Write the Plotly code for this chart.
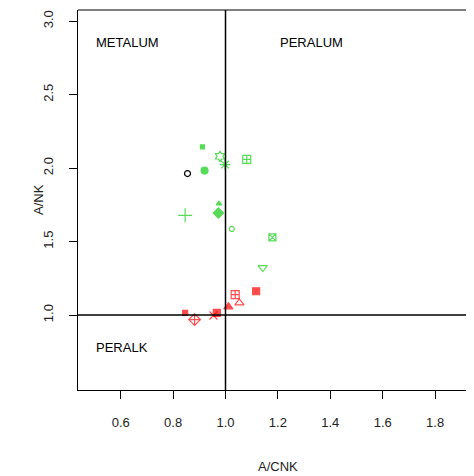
import plotly.graph_objects as go

# Green samples
green_x = [0.912, 0.979, 0.998, 1.081, 0.920, 0.846, 0.973, 0.975, 1.024, 1.179, 1.142]
green_y = [2.144, 2.080, 2.024, 2.060, 1.983, 1.679, 1.695, 1.758, 1.586, 1.529, 1.323]
green_sym = ["square", "hexagram-open", "asterisk-open", "square-cross-open", "circle",
             "cross-thin-open", "diamond", "triangle-up", "circle-open", "square-x-open",
             "triangle-down-open"]
green_size = [4, 8, 9, 8, 7, 10, 8, 5, 5, 7, 8]

# Black sample
black_x = [0.855]
black_y = [1.963]

# Red samples
red_x = [1.037, 1.117, 1.053, 1.011, 0.846, 0.882, 0.967, 0.954]
red_y = [1.139, 1.162, 1.083, 1.056, 1.015, 0.969, 1.015, 0.997]
red_sym = ["square-cross-open", "square", "triangle-up-open", "triangle-up", "square",
           "diamond-cross-open", "square-x", "x-thin-open"]
red_size = [8, 7, 8, 8, 5, 9, 7, 8]

region_labels = ["METALUM", "PERALUM", "PERALK"]
region_x = [0.498, 1.199, 0.498]
region_y = [2.855, 2.855, 0.779]

x_ticks = [0.6, 0.8, 1.0, 1.2, 1.4, 1.6, 1.8]
y_ticks = [1.0, 1.5, 2.0, 2.5, 3.0]

GREEN = "#11cc11"
RED = "#ff0000"
FONT = "Liberation Sans, Arial"

fig = go.Figure()
fig.add_shape(type="line", x0=1, x1=1, y0=0, y1=1, xref="x", yref="paper",
              line=dict(color="black", width=1.5))
fig.add_shape(type="line", x0=0, x1=1, y0=1, y1=1, xref="paper", yref="y",
              line=dict(color="black", width=1.5))
# top frame line
fig.add_shape(type="line", x0=0, x1=1, y0=1, y1=1, xref="paper", yref="paper",
              line=dict(color="black", width=1))

fig.add_trace(go.Scatter(x=green_x, y=green_y, mode="markers",
                         marker=dict(color=GREEN, symbol=green_sym, size=green_size,
                                     line=dict(color=GREEN, width=1.2))))
fig.add_trace(go.Scatter(x=black_x, y=black_y, mode="markers",
                         marker=dict(color="black", symbol="circle-open", size=6,
                                     line=dict(color="black", width=1.2))))
fig.add_trace(go.Scatter(x=red_x, y=red_y, mode="markers",
                         marker=dict(color=RED, symbol=red_sym, size=red_size,
                                     line=dict(color=RED, width=1.2))))

for t, x, y in zip(region_labels, region_x, region_y):
    fig.add_annotation(x=x, y=y, text=t, showarrow=False, xanchor="left", yanchor="middle",
                       font=dict(size=13, color="black", family=FONT))

# Axis titles
fig.add_annotation(xref="paper", yref="paper", x=0.515, y=-0.2026, text="A/CNK",
                   showarrow=False, xanchor="center", yanchor="middle",
                   font=dict(size=13, color="#222", family=FONT))
fig.add_annotation(xref="paper", yref="paper", x=-0.103, y=0.5, text="A/NK",
                   showarrow=False, xanchor="center", yanchor="middle", textangle=-90,
                   font=dict(size=13, color="#222", family=FONT))

fig.update_layout(
    width=458, height=468,
    margin=dict(l=70, r=0, t=2, b=86, autoexpand=False),
    plot_bgcolor="white", paper_bgcolor="white",
    showlegend=False,
    font=dict(family=FONT, size=13, color="#222"),
    xaxis=dict(range=[0.437, 1.918], tickvals=x_ticks, ticktext=[f"{v:.1f}" for v in x_ticks],
               showgrid=False, zeroline=False, showline=True, linecolor="black", linewidth=1,
               ticks="outside", ticklen=8, tickcolor="black",
               ticklabelstandoff=12, automargin=False),
    yaxis=dict(range=[0.49, 3.076], tickvals=y_ticks, ticktext=[f"{v:.1f}" for v in y_ticks],
               showgrid=False, zeroline=False, showline=True, linecolor="black", linewidth=1,
               ticks="outside", ticklen=8, tickcolor="black", tickangle=-90,
               ticklabelstandoff=11, automargin=False),
)

fig.write_html("out.html")
